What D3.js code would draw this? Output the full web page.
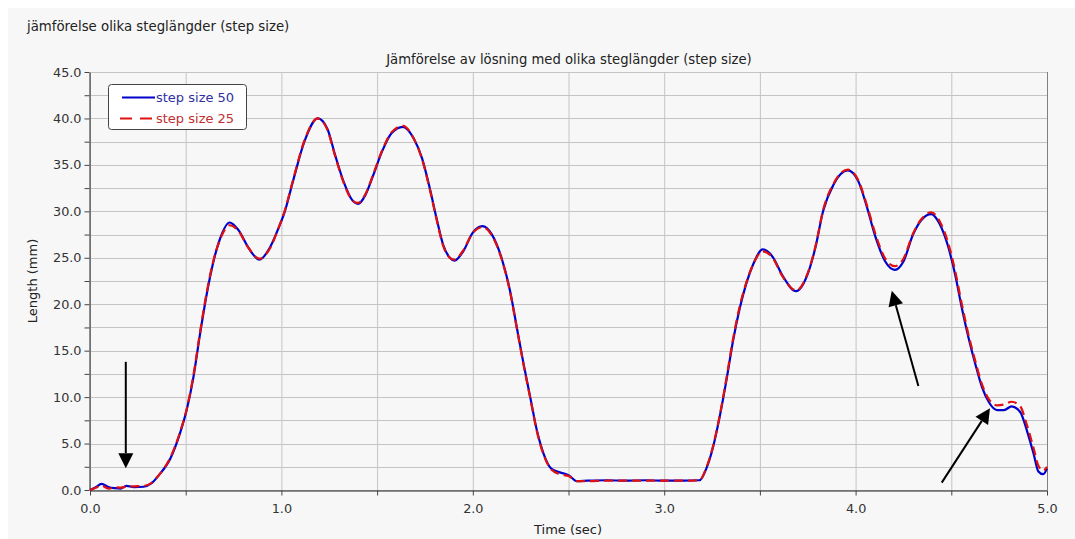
<!DOCTYPE html>
<html><head><meta charset="utf-8">
<script src="https://cdn.jsdelivr.net/npm/d3@7"></script>
<style>
html,body{margin:0;padding:0;background:#fff;}
svg{display:block;font-family:"DejaVu Sans",sans-serif;}
</style></head><body>
<svg id="c" width="1075" height="539"></svg>
<script>
const pageTitle = "jämförelse olika steglängder (step size)";
const chartTitle = "Jämförelse av lösning med olika steglängder (step size)";
const xLabel = "Time (sec)";
const yLabel = "Length (mm)";
const seriesNames = ["step size 50", "step size 25"];
const xTicks = [0, 1, 2, 3, 4, 5];
const yTicks = [0, 5, 10, 15, 20, 25, 30, 35, 40, 45];

const time = [0,0.03,0.06,0.10,0.13,0.16,0.19,0.23,0.28,0.32,0.36,0.42,0.47,0.505,0.54,0.575,0.61,0.645,0.68,0.73,0.775,0.83,0.885,0.94,0.985,1.015,1.06,1.12,1.19,1.24,1.28,1.325,1.37,1.40,1.44,1.48,1.525,1.575,1.635,1.69,1.735,1.775,1.81,1.845,1.88,1.905,1.95,2.0,2.05,2.10,2.15,2.195,2.23,2.265,2.30,2.335,2.37,2.41,2.455,2.50,2.545,2.6,2.7,2.8,2.9,3.0,3.1,3.185,3.22,3.255,3.29,3.325,3.36,3.395,3.43,3.465,3.515,3.57,3.615,3.69,3.745,3.79,3.83,3.885,3.96,4.015,4.06,4.10,4.155,4.205,4.25,4.30,4.345,4.395,4.44,4.485,4.52,4.555,4.59,4.625,4.66,4.695,4.74,4.775,4.815,4.86,4.895,4.93,4.955,4.98,5.0];

const step50 = [0,0.3,0.65,0.3,0.2,0.15,0.45,0.3,0.35,0.7,1.6,3.4,6.1,8.6,12.1,16.8,21.1,24.6,27.1,28.8,28.0,26.0,24.8,26.1,28.2,29.8,33.2,37.5,40.0,38.9,36.1,33.2,31.2,30.8,31.8,33.9,36.4,38.4,39.1,37.9,35.7,32.5,29.3,26.4,25.0,24.7,25.7,27.7,28.4,27.5,25.0,21.4,17.5,13.6,10.0,6.4,3.9,2.3,1.9,1.6,0.95,1.0,1.05,1.0,1.05,1.0,1.0,1.05,2.3,4.6,7.9,11.8,16.1,19.6,22.3,24.3,25.9,25.0,23.2,21.4,23.0,26.1,30.0,32.9,34.4,33.2,30.4,27.5,24.6,23.7,24.6,27.5,29.1,29.7,28.6,26.1,23.2,19.6,16.4,13.6,11.1,9.5,8.6,8.6,9.0,8.4,6.4,3.9,2.0,1.7,2.3];

const step25 = [0,0.25,0.45,0.15,0.3,0.25,0.35,0.4,0.45,0.75,1.6,3.5,6.2,8.7,12.3,17.0,21.3,24.7,27.0,28.5,27.9,26.0,24.9,26.0,28.2,29.9,33.3,37.6,40.0,38.8,36.0,33.1,31.2,30.9,31.9,34.0,36.5,38.5,39.2,37.9,35.6,32.4,29.2,26.3,25.0,24.8,25.8,27.7,28.3,27.4,24.9,21.3,17.4,13.5,9.9,6.3,3.8,2.2,1.7,1.5,0.95,0.95,1.0,1.0,1.0,1.0,1.0,1.05,2.4,4.7,8.0,12.0,16.3,19.8,22.4,24.3,25.7,24.9,23.1,21.5,23.1,26.2,30.1,33.0,34.5,33.3,30.6,27.8,24.9,24.1,24.9,27.6,29.2,29.9,28.9,26.5,23.6,20.0,16.7,13.9,11.4,9.8,9.1,9.2,9.5,9.0,7.0,4.5,2.6,2.1,2.5];

// annotation arrows in data units: [tailT, tailV, tipT, tipV]
const arrows = [[0.187,13.8,0.187,2.35],[4.328,11.2,4.189,21.45],[4.45,0.79,4.702,8.8]];

const svg = d3.select("#c");
const W = 1075, H = 539;
const m = {left:90, right:28, top:72, bottom:49};
const iw = W - m.left - m.right, ih = H - m.top - m.bottom;

svg.append("rect").attr("x",8).attr("y",8).attr("width",W-8).attr("height",H-8).attr("fill","#f7f7f7");

const x = d3.scaleLinear().domain([0,5]).range([m.left, m.left+iw]);
const y = d3.scaleLinear().domain([0,45]).range([m.top+ih, m.top]);

const g = svg.append("g");
const xg = d3.range(0,5.001,0.5), yg = d3.range(0,45.001,2.5);
g.selectAll(".vg").data(xg).enter().append("line")
 .attr("x1",d=>x(d)+0.5).attr("x2",d=>x(d)+0.5).attr("y1",y(45)).attr("y2",y(0))
 .attr("stroke","#c4c4c4").attr("stroke-width",1);
g.selectAll(".hg").data(yg).enter().append("line")
 .attr("x1",x(0)).attr("x2",x(5)).attr("y1",d=>Math.round(y(d))+0.5).attr("y2",d=>Math.round(y(d))+0.5)
 .attr("stroke","#c4c4c4").attr("stroke-width",1);
g.append("line").attr("x1",x(5)+0.5).attr("x2",x(5)+0.5).attr("y1",y(45)).attr("y2",y(0)).attr("stroke","#808080");

const xAxis = d3.axisBottom(x).tickValues(xTicks).tickFormat(d3.format(".1f")).tickSize(5).tickSizeOuter(0);
const xa = svg.append("g").attr("transform",`translate(0,${Math.round(y(0))+0.5})`).call(xAxis);
const xMinor = d3.axisBottom(x).tickValues(d3.range(0.5,5,1)).tickFormat("").tickSize(5).tickSizeOuter(0);
svg.append("g").attr("transform",`translate(0,${Math.round(y(0))+0.5})`).call(xMinor).select(".domain").remove();
const yAxis = d3.axisLeft(y).tickValues(yTicks).tickFormat(d3.format(".1f")).tickSize(5).tickSizeOuter(0);
const ya = svg.append("g").attr("transform",`translate(${x(0)-0.5},0)`).call(yAxis);
const yMinor = d3.axisLeft(y).tickValues(d3.range(2.5,45,5)).tickFormat("").tickSize(5).tickSizeOuter(0);
svg.append("g").attr("transform",`translate(${x(0)-0.5},0)`).call(yMinor).select(".domain").remove();
svg.selectAll(".tick text").attr("font-size",12.8).attr("fill","#333").attr("font-family","'DejaVu Sans',sans-serif");
xa.selectAll(".tick text").attr("dy","1.1em");
svg.selectAll(".domain").attr("stroke","#222");
svg.selectAll(".tick line").attr("stroke","#444");

const pts50 = time.map((t,i)=>[t,step50[i]]);
const pts25 = time.map((t,i)=>[t,step25[i]]);
const line = d3.line().x(d=>x(d[0])).y(d=>y(d[1])).curve(d3.curveMonotoneX);
svg.append("path").attr("d",line(pts50)).attr("fill","none").attr("stroke","#0000cc").attr("stroke-width",2.2);
svg.append("path").attr("d",line(pts25)).attr("fill","none").attr("stroke","#e01010").attr("stroke-width",2.2).attr("stroke-dasharray","9,5");

arrows.forEach(a=>{
  const x1=x(a[0]), y1=y(a[1]), x2=x(a[2]), y2=y(a[3]);
  const ang=Math.atan2(y2-y1,x2-x1), L=15, Wd=7.5;
  const bx=x2-L*Math.cos(ang), by=y2-L*Math.sin(ang);
  svg.append("line").attr("x1",x1).attr("y1",y1).attr("x2",bx).attr("y2",by).attr("stroke","#000").attr("stroke-width",2);
  const px=-Math.sin(ang), py=Math.cos(ang);
  svg.append("path").attr("d",`M${x2},${y2}L${bx+px*Wd},${by+py*Wd}L${bx-px*Wd},${by-py*Wd}Z`).attr("fill","#000");
});

const lg = svg.append("g");
lg.append("rect").attr("x",108.5).attr("y",84.5).attr("width",138).attr("height",45).attr("rx",3)
  .attr("fill","#ffffff").attr("stroke","#444").attr("stroke-width",1);
lg.append("line").attr("x1",122).attr("x2",155).attr("y1",97.5).attr("y2",97.5).attr("stroke","#0000cc").attr("stroke-width",2.2);
lg.append("line").attr("x1",120).attr("x2",152).attr("y1",118.5).attr("y2",118.5).attr("stroke","#e01010").attr("stroke-width",2.2).attr("stroke-dasharray","12,8");
lg.append("text").attr("x",156).attr("y",102).attr("font-size",13).attr("fill","#3030a0").text(seriesNames[0]);
lg.append("text").attr("x",156).attr("y",123).attr("font-size",13).attr("fill","#c03030").text(seriesNames[1]);

svg.append("text").attr("x",27).attr("y",31).attr("font-size",13.3).attr("fill","#222").text(pageTitle);
svg.append("text").attr("x",569).attr("y",64).attr("text-anchor","middle").attr("font-size",13.2).attr("fill","#222").text(chartTitle);
svg.append("text").attr("x",568).attr("y",534).attr("text-anchor","middle").attr("font-size",13).attr("fill","#222").text(xLabel);
svg.append("text").attr("transform","translate(37,281) rotate(-90)").attr("text-anchor","middle").attr("font-size",13).attr("fill","#222").text(yLabel);
</script></body></html>
